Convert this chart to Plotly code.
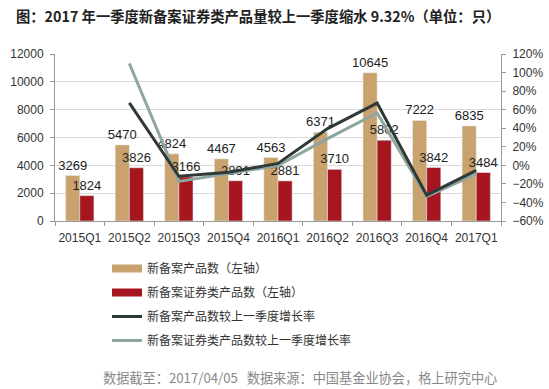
import plotly.graph_objects as go

quarters = ["2015Q1", "2015Q2", "2015Q3", "2015Q4", "2016Q1", "2016Q2", "2016Q3", "2016Q4", "2017Q1"]
new_products = [3269, 5470, 4824, 4467, 4563, 6371, 10645, 7222, 6835]
new_securities = [1824, 3826, 3166, 2891, 2881, 3710, 5802, 3842, 3484]
growth_new = [None, 0.673, -0.118, -0.074, 0.021, 0.396, 0.671, -0.322, -0.054]
growth_sec = [None, 1.098, -0.173, -0.087, -0.003, 0.288, 0.564, -0.338, -0.093]

names = ["新备案产品数（左轴）", "新备案证券类产品数（左轴）", "新备案产品数较上一季度增长率", "新备案证券类产品数较上一季度增长率"]

TAN = "#C9A26E"
RED = "#A6161F"
DARK = "#2F3A36"
LIGHT = "#8FA5A0"
FONT = "Noto Sans CJK SC, Liberation Sans, Arial, sans-serif"
NUMFONT = "Liberation Sans, Arial, sans-serif"

L, R, T, B = 55, 48, 54, 168
PW, PH = 549 - L - R, 389 - T - B


def px_x(x):
    return (x - L) / PW


def px_y(y):
    return (389 - B - y) / PH


fig = go.Figure()
fig.add_trace(go.Bar(x=quarters, y=new_products, name=names[0], marker_color=TAN,
                     text=[str(v) for v in new_products], textposition="outside",
                     constraintext="none", cliponaxis=False, showlegend=False,
                     textfont=dict(size=13, color="#222222", family=NUMFONT)))
fig.add_trace(go.Bar(x=quarters, y=new_securities, name=names[1], marker_color=RED,
                     text=[str(v) for v in new_securities], textposition="outside",
                     constraintext="none", cliponaxis=False, showlegend=False,
                     textfont=dict(size=13, color="#222222", family=NUMFONT)))
fig.add_trace(go.Scatter(x=quarters, y=growth_sec, name=names[3], mode="lines",
                         line=dict(color=LIGHT, width=3), yaxis="y2",
                         legendgroup="d", legendrank=4))
fig.add_trace(go.Scatter(x=quarters, y=growth_new, name=names[2], mode="lines",
                         line=dict(color=DARK, width=3), yaxis="y2",
                         legendgroup="c", legendrank=3))
# legend swatches for the bar series (wide rectangles, as in the reference)
fig.add_trace(go.Scatter(x=[None], y=[None], name=names[0], mode="lines",
                         line=dict(color=TAN, width=8), legendgroup="a", legendrank=1))
fig.add_trace(go.Scatter(x=[None], y=[None], name=names[1], mode="lines",
                         line=dict(color=RED, width=8), legendgroup="b", legendrank=2))

fig.update_layout(
    width=549, height=389,
    margin=dict(l=L, r=R, t=T, b=B, autoexpand=False),
    paper_bgcolor="white", plot_bgcolor="white",
    barmode="group", bargap=0.43, bargroupgap=0,
    font=dict(family=FONT, size=12, color="#333333"),
    showlegend=True,
    legend=dict(orientation="v", x=px_x(107), xanchor="left", y=px_y(254), yanchor="top",
                font=dict(size=12, color="#333333"), tracegroupgap=5,
                bgcolor="rgba(0,0,0,0)", itemwidth=30),
    xaxis=dict(showline=True, linecolor="#999999", ticks="outside", tickson="boundaries",
               ticklen=4, tickcolor="#999999", tickangle=0, ticklabelstandoff=6,
               tickfont=dict(size=12, color="#333333", family=NUMFONT)),
    yaxis=dict(range=[0, 12000], dtick=2000, tickformat="d", showline=True, linecolor="#999999",
               ticks="outside", ticklen=4, tickcolor="#999999", ticklabelstandoff=4,
               gridcolor="#D9D9D9", zeroline=False,
               tickfont=dict(size=12, color="#333333", family=NUMFONT)),
    yaxis2=dict(range=[-0.6, 1.2], dtick=0.2, tickformat=".0%", overlaying="y", side="right",
                showline=True, linecolor="#999999", ticks="outside", ticklen=4,
                tickcolor="#999999", showgrid=False, zeroline=False, ticklabelstandoff=4,
                tickfont=dict(size=12, color="#333333", family=NUMFONT)),
    annotations=[
        dict(text="<b>图：2017 年一季度新备案证券类产品量较上一季度缩水 9.32%（单位：只）</b>",
             xref="paper", yref="paper", x=px_x(14), y=px_y(15),
             xanchor="left", yanchor="middle", showarrow=False,
             font=dict(size=14.3, color="#222222", family=FONT)),
        dict(text="数据截至：2017/04/05   数据来源：中国基金业协会，格上研究中心",
             xref="paper", yref="paper", x=px_x(300), y=px_y(377),
             xanchor="center", yanchor="middle", showarrow=False,
             font=dict(size=13.2, color="#888888", family=FONT)),
    ],
)

fig.write_html("out.html", post_script="document.body.style.margin='0';",
               config={"displayModeBar": False})
